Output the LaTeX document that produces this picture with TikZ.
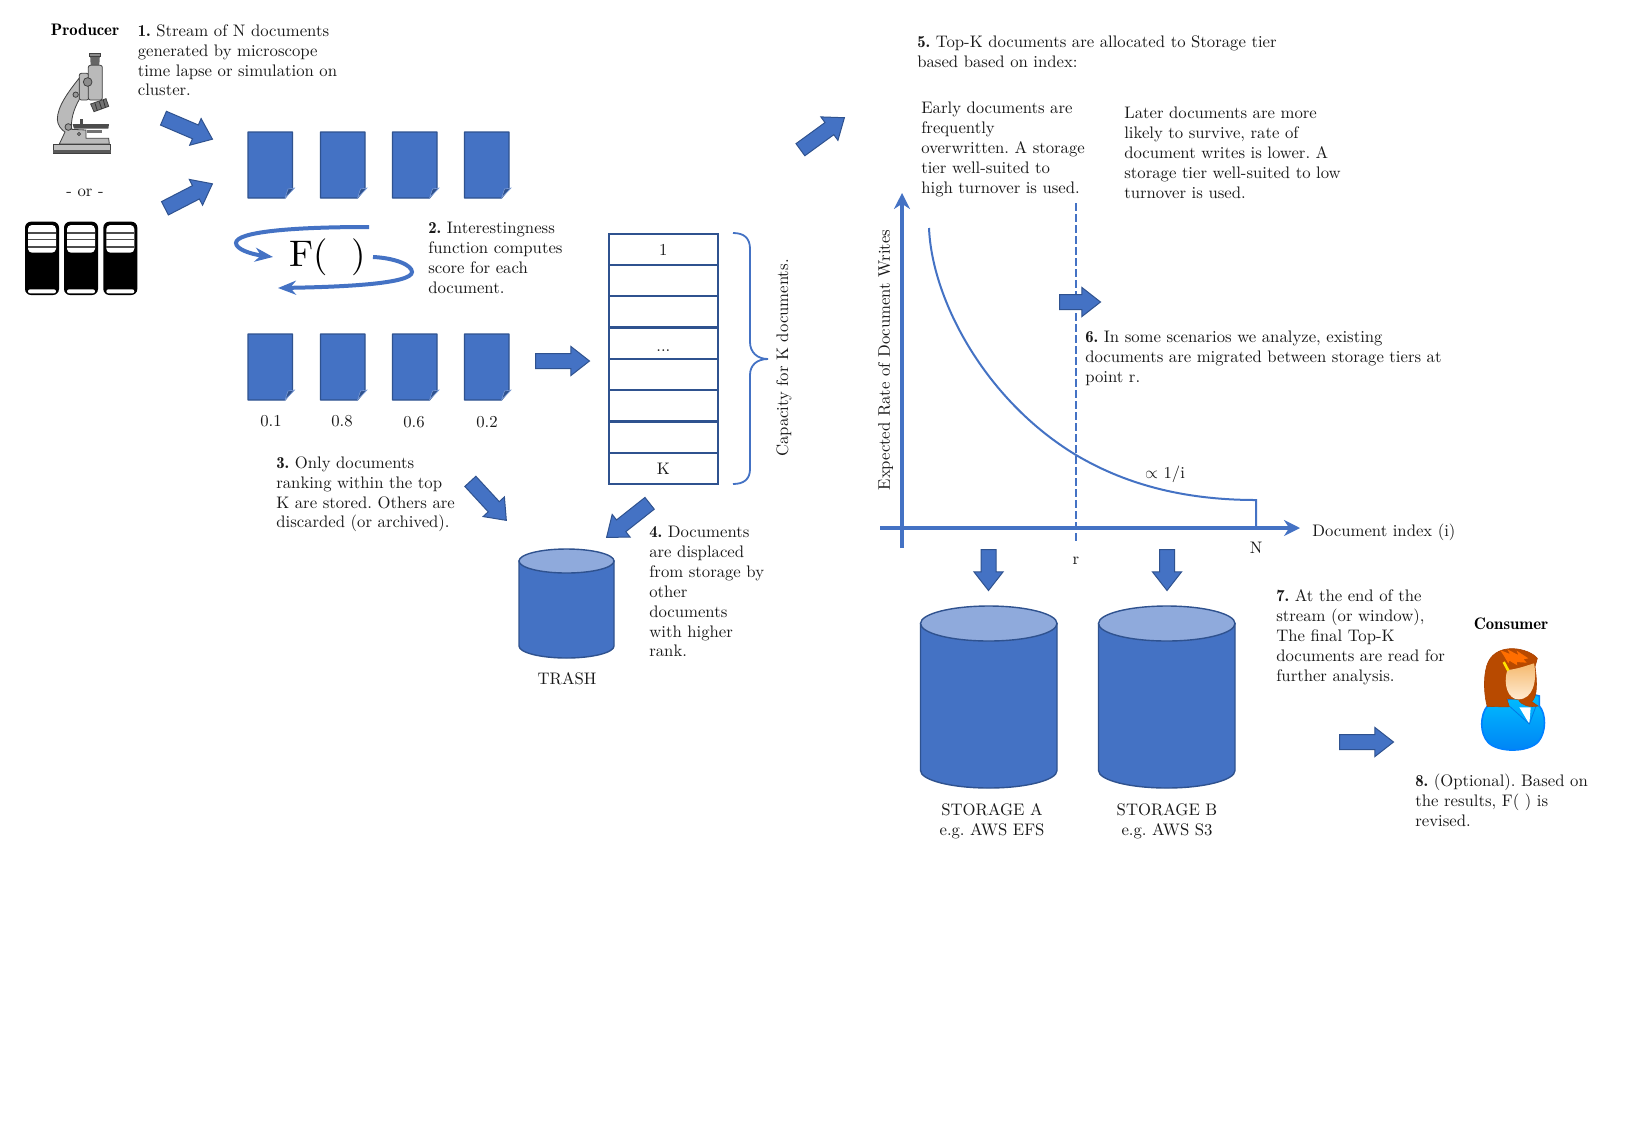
\documentclass[tikz,border=0pt]{standalone}
\usetikzlibrary{shapes.arrows,arrows.meta,calc}
\definecolor{blu}{HTML}{4472C4}
\definecolor{blud}{HTML}{2F528F}
\definecolor{blul}{HTML}{8FAADC}
\definecolor{coatline}{RGB}{0,128,255}
\definecolor{coattop}{RGB}{0,190,255}
\definecolor{coatlow}{RGB}{0,130,245}
\definecolor{coatseam}{RGB}{0,120,230}
\definecolor{hairfill}{RGB}{184,74,0}
\definecolor{hairline}{RGB}{170,66,0}
\definecolor{skintop}{RGB}{245,185,110}
\definecolor{skinlow}{RGB}{255,235,210}
\definecolor{streak}{RGB}{255,110,0}
\definecolor{hairclip}{RGB}{255,225,0}
\newcommand{\num}[1]{{\fontseries{b}\selectfont #1}}
\tikzset{
  x=0.5pt,y=-0.5pt,
  lbl/.style={inner sep=0pt,scale=0.835,font=\fontsize{10}{11.95}\selectfont\frenchspacing,text=black!90},
  para/.style={lbl,anchor=north west,align=left},
  cell/.style={draw=blud,line width=1.1pt,fill=white,anchor=north west,inner sep=0pt,
    minimum width=54.75pt,minimum height=15.7pt},
  docbody/.style={fill=blu,draw=blud,line width=0.7pt,line join=round},
  docfold/.style={fill=blud,draw=blu!70,line width=0.3pt},
  blockarrow/.style={single arrow,draw=blud,fill=blu,line width=0.5pt,inner sep=3.5pt,
    single arrow head extend=3.5pt,single arrow tip angle=76,anchor=tail},
  curvearrow/.style={blu,line width=2pt,-{Stealth[length=9pt,width=7pt]}},
  axisline/.style={blu,line width=1.7pt},
  can/.style={fill=blu,draw=blud,line width=0.7pt},
  cantop/.style={fill=blul,draw=blud,line width=0.7pt},
}
% block arrow from tail point to tip point
\newcommand{\blockarr}[5]{%
  \pgfmathsetmacro{\arrlen}{veclen(#4-#2,#5-#3)*0.5}%
  \pgfmathsetmacro{\arrang}{atan2(-(#5-#3),#4-#2)}%
  \node[blockarrow,minimum height=\arrlen pt,rotate=\arrang] (#1) at (#2,#3) {};%
}
% storage cylinder: left, right, top, ellipse radius, bottom
\newcommand{\drum}[5]{%
  \pgfmathsetmacro{\drx}{(#2-#1)/2}%
  \pgfmathsetmacro{\dcx}{(#1+#2)/2}%
  \draw[can] (#1,#3+#4) -- (#1,#5-#4) .. controls (#1,#5-#4*0.45) and (\dcx-\drx*0.55,#5) .. (\dcx,#5) .. controls (\dcx+\drx*0.55,#5) and (#2,#5-#4*0.45) .. (#2,#5-#4) -- (#2,#3+#4) -- cycle;%
  \draw[cantop] (\dcx,#3+#4) ellipse[x radius=\drx,y radius=#4];%
}
\begin{document}
\begin{tikzpicture}
\useasboundingbox[fill=white] (0,0) rectangle (1625,1125);

% document icons, unscored and scored rows
\foreach \dy in {132,334}{
  \foreach \dx in {248,320.5,392.5,464.5}{
    \draw[docbody] (\dx,\dy) -- (\dx+44.5,\dy) -- (\dx+44.5,\dy+56) -- (\dx+37,\dy+66) -- (\dx,\dy+66) -- cycle;
    \draw[docfold] (\dx+37,\dy+66) -- (\dx+40,\dy+57) -- (\dx+46.5,\dy+56) -- cycle;
  }
}
\node[lbl] (s1) at (271,421) {0.1};
\node[lbl] (s2) at (342,421) {0.8};
\node[lbl] (s3) at (414,422) {0.6};
\node[lbl] (s4) at (487,422) {0.2};

% scoring function with its loop arrows
\node[inner sep=0pt,scale=1.85,font=\fontsize{10}{12}\selectfont,text=black] (fn) at (327.5,257) {F(\hspace{6.5pt})};
\coordinate (la) at (369,227);
\coordinate (lb) at (273,257);
\coordinate (ra) at (373,257);
\coordinate (rb) at (278,288);
\draw[curvearrow] (la) .. controls (290,227) and (236,232) .. (236,243) .. controls (236,249) and (250,254) .. (lb);
\draw[curvearrow] (ra) .. controls (395,258) and (412,265) .. (412,272) .. controls (412,284) and (340,287) .. (rb);

% ranked storage stack
\foreach \i in {1,...,8}{
  \node[cell] (c\i) at (607.5,{232.5+(\i-1)*31.3}) {};
}
\node[lbl] (c1t) at ($(c1)+(0,1)$) {1};
\node[lbl] (c4t) at ($(c4)+(0,7)$) {...};
\node[lbl] (c8t) at (c8) {K};
\draw[blu,line width=0.9pt] (733,233) .. controls (744,233) and (750,238) .. (750,249) -- (750,342) .. controls (750,352) and (757,359) .. (768,359)
  .. controls (757,359) and (750,365) .. (750,375) -- (750,469) .. controls (750,479) and (744,484) .. (733,484);
\node[lbl,rotate=90] (cap) at (784,358) {Capacity for K documents.};

% block arrows
\blockarr{a1}{163}{118}{212}{139}
\blockarr{a2}{164.5}{208.5}{212}{184}
\blockarr{a3}{535}{361}{589}{361}
\blockarr{a4}{470}{481}{506}{520}
\blockarr{a5}{650}{503}{607}{537}
\blockarr{a6}{800}{150}{844}{118}
\blockarr{a8}{988.5}{549}{988.5}{590}
\blockarr{a9}{1167}{549}{1167}{590}
\blockarr{a10}{1339}{742}{1393}{742}

% storage cylinders
\drum{519}{614}{549}{12}{658}
\drum{920.5}{1057}{606}{17.5}{788}
\drum{1098.5}{1235}{606}{17.5}{788}
\node[lbl] (trash) at (567,679) {TRASH};
\node[lbl,align=center] (sta) at (992,821) {STORAGE A\\e.g. AWS EFS};
\node[lbl,align=center] (stb) at (1167,821) {STORAGE B\\e.g. AWS S3};

% rate-versus-index chart
\coordinate (yb) at (902,548);
\coordinate (yt) at (902,193);
\coordinate (xl) at (880,528);
\coordinate (xr) at (1300,528);
\draw[axisline,-{Stealth[length=8pt,width=8pt]}] (yb) -- (yt);
\draw[axisline,-{Stealth[length=8pt,width=8pt]}] (xl) -- (xr);
\draw[blu,line width=0.8pt,dash pattern=on 4pt off 1.5pt] (1076,203) -- (1076,541);
\draw[blu,line width=1pt] (929,228) .. controls (932,300) and (985,400) .. (1076,455)
  .. controls (1130,487) and (1190,500) .. (1256,500) -- (1256,528);
\blockarr{a7}{1059}{302}{1100}{302}
\node[lbl] (rlab) at (1076,561) {r};
\node[lbl] (nlab) at (1256,548) {N};
\node[lbl,anchor=west] (xlab) at (1312,532) {Document index (i)};
\node[lbl,rotate=90] (ylab) at (885.5,360) {Expected Rate of Document Writes};
\node[lbl] (prop) at (1165,474) {$\propto$ 1/i};

% numbered explanations
\node[para] (t1) at (137.5,24) {\num{1.} Stream of N documents\\generated by microscope\\time lapse or simulation on\\cluster.};
\node[para] (t2) at (428,222) {\num{2.} Interestingness\\function computes\\score for each\\document.};
\node[para] (t3) at (276,456) {\num{3.} Only documents\\ranking within the top\\K are stored. Others are\\discarded (or archived).};
\node[para] (t4) at (649,525.5) {\num{4.} Documents\\are displaced\\from storage by\\other\\documents\\with higher\\rank.};
\node[para] (t5) at (917,35) {\num{5.} Top-K documents are allocated to Storage tier\\based based on index:};
\node[para] (t5a) at (921,101.5) {Early documents are\\frequently\\overwritten. A storage\\tier well-suited to\\high turnover is used.};
\node[para] (t5b) at (1124,107) {Later documents are more\\likely to survive, rate of\\document writes is lower. A\\storage tier well-suited to low\\turnover is used.};
\node[para] (t6) at (1085,331) {\num{6.} In some scenarios we analyze, existing\\documents are migrated between storage tiers at\\point r.};
\node[para] (t7) at (1276,589) {\num{7.} At the end of the\\stream (or window),\\The final Top-K\\documents are read for\\further analysis.};
\node[para] (t8) at (1415,774) {\num{8.} (Optional). Based on\\the results, F( ) is\\revised.};
\node[lbl,font=\fontsize{10}{12}\fontseries{b}\selectfont,text=black] (prod) at (85,30) {Producer};
\node[lbl,font=\fontsize{10}{12}\fontseries{b}\selectfont,text=black] (cons) at (1511,624) {Consumer};
\node[lbl] (ortext) at (85,193) {- or -};

% microscope
\begin{scope}[scale=1/3,line width=0.4pt,draw=black!75]
  \fill[black!60] (270,160) -- (300,160) -- (298,195) -- (272,195) -- cycle;
  \draw[fill=black!45] (268,160) rectangle (302,168);
  \draw[fill=black!27,rounded corners=1pt] (238,220) rectangle (266,300);
  \draw[fill=black!27,rounded corners=1pt] (265,196) rectangle (307,300);
  \draw[fill=black!27] (238,234) .. controls (205,275) and (172,320) .. (172,358) .. controls (172,375) and (185,390) .. (195,396)
     -- (178,432) -- (328,432) -- (326,415) -- (258,415) -- (258,390) -- (215,388) .. controls (212,360) and (220,330) .. (238,298) -- cycle;
  \draw[fill=black!55] (272,312) -- (318,296) -- (326,319) -- (282,335) -- cycle;
  \draw[black!80] (285,310) -- (292,332) (298,305) -- (305,327) (310,300) -- (316,322);
  \draw[fill=black!45] (263,246) circle[radius=13];
  \draw[fill=black!40] (227,284) circle[radius=8];
  \draw[fill=black!40] (205,381) circle[radius=10];
  \draw[fill=black!40] (237,402) circle[radius=5];
  \fill[black!70] (240,358) rectangle (248,373);
  \fill[black!70] (218,372) -- (327,372) -- (325,386) -- (222,386) -- cycle;
  \fill[black!55] (262,389) rectangle (305,400);
  \draw[fill=black!25] (160,432) rectangle (332,460);
  \fill[black!65] (160,451) rectangle (332,460);
\end{scope}

% rack of servers
\begin{scope}[scale=1/3]
  \foreach \sx in {75,192,310}{
    \fill[black,rounded corners=3pt] (\sx,665) rectangle (\sx+102,885);
    \fill[white,rounded corners=2pt] (\sx+9,675) rectangle (\sx+93,758);
    \fill[black!70] (\sx+9,697) rectangle (\sx+93,702);
    \fill[black!70] (\sx+9,716) rectangle (\sx+93,721);
    \fill[black!70] (\sx+9,738) rectangle (\sx+93,743);
    \fill[white,rounded corners=1pt] (\sx+9,868) rectangle (\sx+93,880);
  }
\end{scope}

% consumer figure
\begin{scope}[shift={(1400,600)},scale=1/3]
  \draw[draw=coatline,line width=0.8pt,top color=coattop,bottom color=coatlow]
    (262,318) .. controls (240,345) and (238,400) .. (265,428) .. controls (295,458) and (385,458) .. (415,425)
    .. controls (440,395) and (438,340) .. (418,318) -- (418,288) -- (395,282) -- (320,300) -- cycle;
  \fill[white] (358,322) -- (392,322) -- (388,372) -- cycle;
  \draw[coatseam,line width=0.4pt] (330,320) -- (388,372) -- (408,318);
  \draw[fill=hairfill,draw=hairline,line width=0.3pt]
    (262,320) .. controls (250,280) and (250,215) .. (265,185) .. controls (280,155) and (310,145) .. (340,146)
    .. controls (370,147) and (400,160) .. (412,175) -- (405,200) .. controls (412,250) and (412,290) .. (395,305)
    -- (414,318) .. controls (390,322) and (365,318) .. (355,298) -- (320,296) -- (328,320) .. controls (305,322) and (280,318) .. (262,320) -- cycle;
  \shade[top color=skintop,bottom color=skinlow]
    (322,210) .. controls (350,208) and (385,195) .. (402,190) .. controls (412,240) and (400,298) .. (355,298)
    .. controls (325,298) and (308,255) .. (322,210) -- cycle;
  \fill[streak] (300,150) -- (330,162) -- (322,148) -- (355,165) -- (350,152) -- (385,175) -- (370,178) -- (380,188) -- (350,186) -- (352,196) -- (328,182) -- (325,190) -- (312,168) -- cycle;
  \draw[hairclip,line width=1.3pt] (311,186) -- (325,212);
\end{scope}
\end{tikzpicture}
\end{document}
